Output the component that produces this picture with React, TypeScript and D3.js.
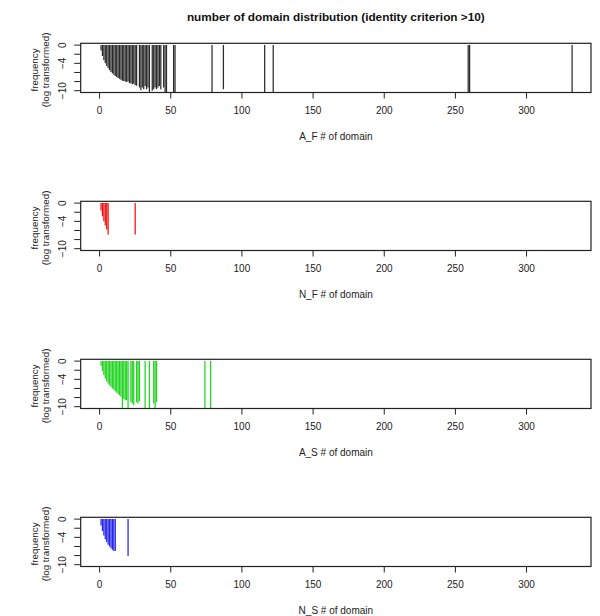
import React from "react";
import * as d3 from "d3";

// number of domains per protein (x) and log-transformed frequency (y)
const afDomains = [
  1, 2, 3, 4, 5, 6, 7, 8, 9, 10, 11, 12, 13, 14, 15, 16, 17, 18, 19, 20, 21, 22, 23, 24, 25, 26,
  28, 29, 30, 31, 32, 33, 34, 35, 37, 38, 39, 40, 41, 42, 43, 45, 46, 47, 52, 53, 79, 87, 116, 122,
  259, 260, 332,
];
const afLogFreq = [
  -1.2, -2.4, -3.3, -4.0, -4.6, -5.1, -5.5, -5.9, -6.2, -6.5, -6.8, -7.0, -7.2, -7.4, -7.6, -7.8,
  -7.9, -8.0, -8.1, -8.0, -8.3, -8.4, -8.6, -8.5, -8.8, -8.9, -9.3, -9.9, -9.3, -9.7, -9.0, -9.7,
  -9.3, -10.4, -10.0, -9.7, -9.3, -9.7, -9.3, -9.0, -9.7, -9.3, -10.4, -10.4, -10.4, -10.4, -10.4,
  -9.7, -10.4, -10.4, -10.4, -10.4, -10.4,
];

const nfDomains = [1, 2, 3, 4, 5, 6, 25];
const nfLogFreq = [-1.6, -2.9, -4.0, -4.9, -5.8, -6.9, -6.9];

const asDomains = [
  1, 2, 3, 4, 5, 6, 7, 8, 9, 10, 11, 12, 13, 14, 15, 16, 17, 18, 19, 20, 22, 23, 24, 26, 27, 28,
  32, 35, 38, 39, 40, 74, 78,
];
const asLogFreq = [
  -1.0, -2.2, -3.1, -3.8, -4.4, -4.9, -5.3, -5.7, -6.0, -6.3, -6.6, -6.9, -7.2, -7.5, -7.8, -10.4,
  -8.3, -8.6, -8.6, -10.4, -9.0, -9.3, -9.7, -9.0, -9.3, -8.8, -10.4, -10.4, -9.3, -10.4, -9.0,
  -10.4, -10.4,
];

const nsDomains = [1, 2, 3, 4, 5, 6, 7, 8, 9, 10, 11, 20];
const nsLogFreq = [-1.4, -2.6, -3.6, -4.4, -5.0, -5.6, -6.0, -6.4, -6.7, -7.0, -7.0, -8.1];

const xLabels = ["A_F # of domain", "N_F # of domain", "A_S # of domain", "N_S # of domain"];
const colors = ["#2b2b2b", "#f01010", "#22d422", "#2424ee"];
const xTicks = [0, 50, 100, 150, 200, 250, 300];
const yTicks = [0, -2, -4, -6, -8, -10];
const yTickLabels = [0, -4, -10];

const panels = [
  { xs: afDomains, ys: afLogFreq },
  { xs: nfDomains, ys: nfLogFreq },
  { xs: asDomains, ys: asLogFreq },
  { xs: nsDomains, ys: nsLogFreq },
].map((p, i) => ({ ...p, label: xLabels[i], color: colors[i] }));

const width = 600,
  height = 616;
const left = 80.7,
  right = 591,
  boxH = 49.2,
  firstTop = 43.3,
  step = 158;

const font = "'Liberation Sans', Arial, sans-serif";

export default function App() {
  // R style axis: data range padded by 4% each side
  const xMax = 332;
  const x = d3
    .scaleLinear()
    .domain([-xMax * 0.04, xMax * 1.04])
    .range([left, right]);

  return (
    <svg width={width} height={height} style={{ display: "block", position: "absolute", left: 0, top: 0 }}>
      <rect width={width} height={height} fill="#fff" />
      <text
        x={(left + right) / 2}
        y={21}
        textAnchor="middle"
        fontFamily={font}
        fontWeight="bold"
        fontSize={11.8}
        fill="#111"
      >
        number of domain distribution (identity criterion &gt;10)
      </text>
      {panels.map((p, i) => {
        const top = firstTop + i * step;
        const bottom = top + boxH;
        const y = d3.scaleLinear().domain([0.4, -10.4]).range([top, bottom]);
        const clipId = `clip${i}`;
        return (
          <g key={i}>
            <defs>
              <clipPath id={clipId}>
                <rect x={left} y={top} width={right - left} height={boxH} />
              </clipPath>
            </defs>
            <g clipPath={`url(#${clipId})`}>
              {p.xs.map((d, j) => (
                <line
                  key={j}
                  x1={x(d)}
                  x2={x(d)}
                  y1={y(0)}
                  y2={y(p.ys[j])}
                  stroke={p.color}
                  strokeWidth={1.25}
                />
              ))}
            </g>
            <rect x={left} y={top} width={right - left} height={boxH} fill="none" stroke="#222" strokeWidth={1.2} />
            {/* x axis */}
            <line x1={x(0)} x2={x(300)} y1={bottom} y2={bottom} stroke="#222" strokeWidth={1.2} />
            {xTicks.map((t) => (
              <g key={t}>
                <line x1={x(t)} x2={x(t)} y1={bottom} y2={bottom + 6} stroke="#222" />
                <text
                  x={x(t)}
                  y={bottom + 21}
                  textAnchor="middle"
                  fontFamily={font}
                  fontSize={10}
                  fill="#222"
                >
                  {t}
                </text>
              </g>
            ))}
            <text
              x={(left + right) / 2}
              y={bottom + 47}
              textAnchor="middle"
              fontFamily={font}
              fontSize={10}
              fill="#222"
            >
              {p.label}
            </text>
            {/* y axis */}
            {yTicks.map((t) => (
              <line key={t} x1={left - 6.5} x2={left} y1={y(t)} y2={y(t)} stroke="#222" />
            ))}
            {yTickLabels.map((t) => (
              <text
                key={t}
                transform={`translate(${left - 18},${y(t)}) rotate(-90)`}
                dy="0.35em"
                textAnchor="middle"
                fontFamily={font}
                fontSize={10}
                fill="#222"
              >
                {t === 0 ? "0" : "\u2212" + Math.abs(t)}
              </text>
            ))}
            <text
              transform={`translate(${left - 46},${top + boxH / 2 + 2}) rotate(-90)`}
              dy="0.35em"
              textAnchor="middle"
              fontFamily={font}
              fontSize={9.8}
              fill="#222"
            >
              frequency
            </text>
            <text
              transform={`translate(${left - 35},${top + boxH / 2 + 2}) rotate(-90)`}
              dy="0.35em"
              textAnchor="middle"
              fontFamily={font}
              fontSize={9.8}
              fill="#222"
            >
              (log transformed)
            </text>
          </g>
        );
      })}
    </svg>
  );
}
